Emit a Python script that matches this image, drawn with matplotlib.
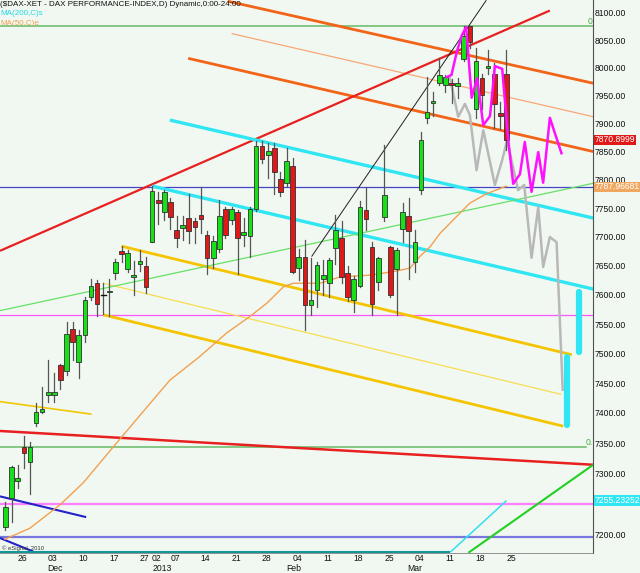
import matplotlib
matplotlib.use("Agg")
import matplotlib.pyplot as plt
import matplotlib.transforms as mtransforms
from matplotlib.patches import Rectangle
from matplotlib.ticker import NullLocator
import numpy as np

plt.rcParams["font.family"] = ["Liberation Sans", "DejaVu Sans"]

# trading-day index: 0 = 26 Nov 2012 ... 80 = 25 Mar 2013
days = np.arange(-2, 81)
opens = [7212, 7259, 7288, 7343, 7319, 7383, 7401, 7430, 7430, 7480,
         7470, 7541, 7486, 7531, 7596, 7620, 7599, 7605, 7637, 7676,
         7644, 7630, 7654, 7649, 7692, 7764, 7743, 7761, 7712, 7716,
         7733, 7727, 7739, 7704, 7663, 7679, 7748, 7729, 7743, 7704,
         7702, 7748, 7860, 7844, 7857, 7802, 7795, 7824, 7646, 7666,
         7582, 7609, 7628, 7620, 7681, 7698, 7637, 7592, 7615, 7747,
         7683, 7622, 7735, 7683, 7644, 7714, 7737, 7656, 7782, 7909,
         7936, 7973, 7969, 7972, 7967, 8015, 8075, 7926, 7981, 7999,
         7989, 7918, 7988]
highs = [7252, 7312, 7313, 7362, 7351, 7417, 7443, 7489, 7467, 7483,
         7554, 7554, 7540, 7597, 7627, 7626, 7620, 7628, 7662, 7685,
         7677, 7658, 7677, 7666, 7790, 7779, 7782, 7768, 7737, 7736,
         7775, 7733, 7787, 7710, 7701, 7765, 7753, 7753, 7747, 7733,
         7753, 7868, 7868, 7865, 7865, 7814, 7856, 7839, 7679, 7695,
         7663, 7657, 7660, 7663, 7739, 7727, 7649, 7632, 7763, 7786,
         7692, 7666, 7862, 7685, 7681, 7759, 7768, 7712, 7885, 7983,
         7957, 8017, 7987, 7980, 7981, 8076, 8075, 8035, 7989, 8032,
         8009, 7939, 8032]
lows = [7207, 7220, 7275, 7308, 7266, 7378, 7400, 7419, 7419, 7440,
        7464, 7489, 7458, 7520, 7591, 7563, 7567, 7563, 7627, 7657,
        7640, 7600, 7641, 7603, 7692, 7722, 7729, 7714, 7683, 7695,
        7689, 7689, 7707, 7636, 7646, 7674, 7698, 7722, 7636, 7684,
        7665, 7745, 7830, 7803, 7776, 7772, 7790, 7637, 7625, 7540,
        7565, 7579, 7600, 7596, 7654, 7621, 7589, 7570, 7613, 7713,
        7565, 7608, 7727, 7597, 7565, 7692, 7628, 7639, 7775, 7901,
        7914, 7968, 7957, 7936, 7945, 8012, 8035, 7909, 7925, 7989,
        7891, 7890, 7852]
closes = [7245, 7310, 7292, 7333, 7343, 7401, 7406, 7435, 7435, 7455,
          7534, 7520, 7531, 7591, 7615, 7584, 7599, 7606, 7656, 7670,
          7673, 7634, 7658, 7613, 7781, 7759, 7778, 7735, 7698, 7721,
          7710, 7717, 7731, 7663, 7693, 7736, 7704, 7749, 7698, 7708,
          7749, 7859, 7836, 7851, 7814, 7778, 7834, 7639, 7665, 7582,
          7591, 7651, 7634, 7660, 7713, 7631, 7596, 7628, 7753, 7731,
          7584, 7663, 7774, 7600, 7677, 7743, 7710, 7692, 7870, 7920,
          7940, 7987, 7984, 7968, 7972, 8058, 8046, 8012, 7951, 8003,
          7934, 7913, 7871]

# MA(50)
ma50_x = [-2.1, 2.0, 6.9, 10.7, 15.6, 20.5, 24.9, 29.8, 34.2, 38.0, 40.8, 43.5,
          45.1, 49.5, 52.8, 57.7, 61.4, 64.2, 65.8, 67.5, 69.1, 71.3, 74.0, 76.8, 80.0]
ma50_y = [7192, 7210, 7248, 7284, 7343, 7402, 7455, 7495, 7535, 7563, 7586, 7614,
          7620, 7620, 7631, 7634, 7640, 7646, 7666, 7683, 7706, 7730, 7759, 7776, 7789]

# projections
proj_pink_x = [70.2, 71.0, 71.85, 72.7, 73.4, 74.3, 75.2, 76.2, 77.3, 78.1, 79.3, 80.3,
               81.1, 82.2, 83.0, 84.1, 85.2, 86.0, 87.1, 89.0]
proj_pink_y = [7983, 7987, 8028, 8059, 8074, 7946, 7981, 7897, 7913, 8003, 7998, 7869,
               7793, 7810, 7867, 7779, 7849, 7795, 7910, 7847]
proj_gray_x = [70.75, 72.1, 73.2, 74.0, 75.1, 76.2, 78.1, 79.3, 80.1, 81.9, 82.9, 84.1,
               85.2, 86.0, 87.1, 88.2, 89.2]
proj_gray_y = [7981, 7912, 7935, 7915, 7817, 7888, 7791, 7835, 7870, 7782, 7791, 7664,
               7752, 7648, 7700, 7691, 7439]

# trend lines: (x0, x1), (p0, p1)
red_up = ([-2.9, 87.1], [7676, 8104])
red_down = ([-2.9, 94.2], [7370, 7314])
orange_top = ([34.4, 94.2], [8121, 7972])
orange_mid = ([35.0, 94.2], [8062, 7912])
orange_low = ([27.9, 94.2], [8017, 7850])
cyan_top = ([24.9, 94.2], [7906, 7733])
cyan_mid = ([22.0, 94.2], [7789, 7610])
gold_top = ([17.0, 90.7], [7684, 7498])
yellow_mid = ([14.0, 89.0], [7620, 7431])
gold_low = ([14.0, 89.3], [7566, 7378])
gold_short = ([-2.9, 12.1], [7419, 7398])
green_up = ([-2.9, 94.2], [7573, 7794])
green_low = ([73.75, 94.2], [7170, 7314])
navy_a = ([-2.9, 11.2], [7262, 7228])
navy_b = ([-2.9, 2.55], [7194, 7172])
black_up = ([48.1, 76.7], [7666, 8123])
ma200_flat = ([-2.9, 70.8], [7171, 7171])
ma200_rise = ([70.8, 80.0], [7171, 7255])
cyan_bar_a = ([89.85, 89.85], [7380, 7494])
cyan_bar_b = ([91.9, 91.9], [7503, 7605])

level_green_top = 8075
level_green_low = 7343
level_blue = 7788
level_pink_top = 7565
level_pink_low = 7250
level_slate = 7195

last_close = 7870.8999
ma50_last = 7787.96681
ma200_last = 7255.23252

# 7250 sits under the MA200 box on the original scale
price_ticks = [p for p in range(7200, 8101, 50) if p != 7250]
day_ticks = [0, 5, 10, 15, 20, 22, 25, 30, 35, 40, 45, 50, 55, 60, 65, 70, 75, 80]
day_labels = ["26", "03", "10", "17", "27", "02", "07", "14", "21", "28",
              "04", "11", "18", "25", "04", "11", "18", "25"]
month_pos = [6.1, 23.6, 45.1, 65.0]
month_labels = ["Dec", "2013", "Feb", "Mar"]

BG = "#f1f8f1"
W, H = 640, 573

fig = plt.figure(figsize=(W / 100, H / 100), dpi=100, facecolor=BG)
ax = fig.add_axes([0, 20 / H, 593 / W, 553 / H])
ax.set_facecolor(BG)
ax.set_yscale("log")
ax.set_xlim(-2.9, 94.16)
ax.set_ylim(7169.7, 8123.3)


def seg(line, color, lw, z=2, **kw):
    ax.plot(line[0], line[1], color=color, lw=lw, zorder=z, solid_capstyle="butt", **kw)


# horizontal levels
ax.axhline(level_green_top, color="#66bb66", lw=1.1, zorder=1)
ax.plot([-2.9, 93.0], [level_green_low] * 2, color="#66bb66", lw=1.1, zorder=1)
ax.axhline(level_blue, color="#4545c8", lw=0.9, zorder=1)
ax.axhline(level_pink_top, color="#ff55ff", lw=0.9, zorder=1)
ax.axhline(level_pink_low, color="#ff80ff", lw=1.6, zorder=1)
ax.axhline(level_slate, color="#7777dd", lw=1.6, zorder=1)

# trend lines
seg(orange_top, "#f26418", 2.0)
seg(orange_mid, "#f8a878", 0.9)
seg(orange_low, "#f26418", 2.0)
seg(red_up, "#e82020", 1.6)
seg(red_down, "#e82020", 1.8)
seg(cyan_top, "#30e6f2", 2.4)
seg(cyan_mid, "#30e6f2", 2.4)
seg(gold_top, "#f5c400", 2.0)
seg(yellow_mid, "#f8dc50", 0.9)
seg(gold_low, "#f5c400", 2.0)
seg(gold_short, "#f0c800", 1.2)
seg(green_up, "#66e066", 0.9)
seg(green_low, "#22d022", 1.5)
seg(navy_a, "#2222c8", 1.5)
seg(navy_b, "#2222c8", 1.5)
seg(black_up, "#202020", 0.7)
seg(ma200_flat, "#109898", 1.5)
seg(ma200_rise, "#30dff0", 1.1)
ax.plot(cyan_bar_a[0], cyan_bar_a[1], color="#30e6f2", lw=4.5, solid_capstyle="round", zorder=3)
ax.plot(cyan_bar_b[0], cyan_bar_b[1], color="#30e6f2", lw=4.5, solid_capstyle="round", zorder=3)

# moving average
ax.plot(ma50_x, ma50_y, color="#f2a050", lw=1.0, zorder=2)

# projections
ax.plot(proj_gray_x, proj_gray_y, color="#b8b8b8", lw=1.8, zorder=3)
ax.plot(proj_pink_x, proj_pink_y, color="#ff10ff", lw=1.8, zorder=6)

# candles
bw = 0.76
for d, o, h, l, c in zip(days, opens, highs, lows, closes):
    ax.plot([d, d], [l, h], color="#555555", lw=0.9, zorder=4)
    if abs(c - o) < 1:
        ax.plot([d - bw / 2, d + bw / 2], [o, o], color="#111111", lw=1.0, zorder=5)
        continue
    col = "#18e018" if c > o else "#e01818"
    lo, hi = min(o, c), max(o, c)
    ax.add_patch(Rectangle((d - bw / 2, lo), bw, hi - lo, facecolor=col,
                           edgecolor="#303030", lw=0.6, zorder=5))

# axes styling
for s in ["left", "top"]:
    ax.spines[s].set_visible(False)
ax.spines["right"].set_color("#505050")
ax.spines["right"].set_linewidth(0.8)
ax.spines["bottom"].set_color("#808080")
ax.spines["bottom"].set_linewidth(0.6)

ax.yaxis.tick_right()
ax.yaxis.set_minor_locator(NullLocator())
ax.set_yticks(price_ticks, [f"{p:.2f}" for p in price_ticks])
ax.tick_params(axis="y", length=0, pad=1.5, labelsize=6.2, colors="#111111")
ax.xaxis.set_minor_locator(NullLocator())
ax.set_xticks([d + 0.75 for d in day_ticks], day_labels)
ax.tick_params(axis="x", length=0, pad=1.0, labelsize=6.2, colors="#111111")

trans = mtransforms.blended_transform_factory(ax.transData, ax.transAxes)
for pos, lab in zip(month_pos, month_labels):
    ax.text(pos, -0.0275, lab, transform=trans, ha="center", va="center",
            fontsize=6.2, color="#111111", clip_on=False)

# price boxes on the scale
ytr = mtransforms.blended_transform_factory(ax.transAxes, ax.transData)
for val, txt, col in [(last_close, "7870.8999", "#e01818"),
                      (ma50_last, "7787.96681", "#f0a860"),
                      (ma200_last, "7255.23252", "#30e6f2")]:
    ax.text(1.003, val, txt, transform=ytr, ha="left", va="center", fontsize=6.2,
            color="white", clip_on=False, zorder=10,
            bbox=dict(boxstyle="square,pad=0.08", fc=col, ec="none"))

ax.text(93.6, level_green_top, "0", ha="center", va="bottom", fontsize=6.2, color="#44aa44")
ax.text(93.6, level_green_low, "0.", ha="center", va="bottom", fontsize=6.2, color="#44aa44")

# header texts
fig.text(0, 1 - 4 / H, "($DAX-XET - DAX PERFORMANCE-INDEX,D) Dynamic,0:00-24:00",
         ha="left", va="center", fontsize=5.8, color="#111111")
fig.text(0, 1 - 13.7 / H, "MA(200,C)s", ha="left", va="center", fontsize=5.8, color="#20d8e8")
fig.text(0, 1 - 23.3 / H, "MA(50,C)e", ha="left", va="center", fontsize=5.8, color="#f0a050")
fig.text(2 / W, 1 - 548 / H, "© eSignal, 2010", ha="left", va="center", fontsize=4.2, color="#333333")

fig.savefig("out.png", dpi=100, facecolor=BG)
